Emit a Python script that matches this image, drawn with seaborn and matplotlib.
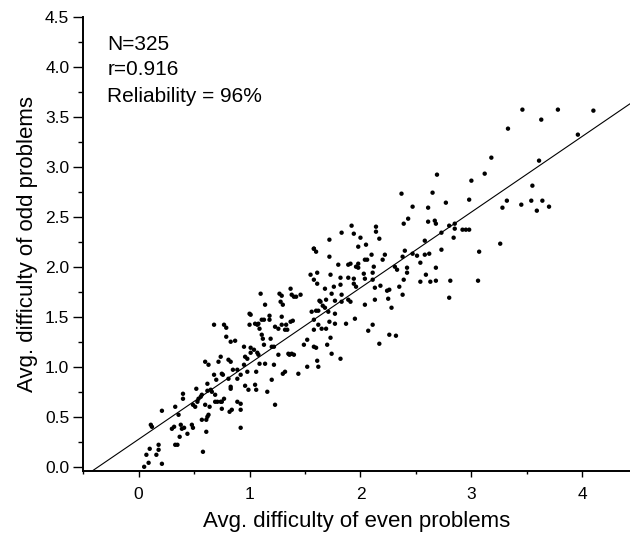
import numpy as np
import pandas as pd
import matplotlib
matplotlib.use("Agg")
import matplotlib.pyplot as plt
import seaborn as sns
from matplotlib.ticker import MultipleLocator

# average difficulty of even problems (x) and odd problems (y)
even_difficulty = [
    0.05, 0.09, 0.07, 0.10, 0.16, 0.18, 0.18, 0.21, 0.11, 0.12, 0.21, 0.33, 0.30, 0.32, 0.33, 0.35,
    0.36, 0.37, 0.38, 0.40, 0.40, 0.39, 0.41, 0.44, 0.48, 0.49, 0.49, 0.51, 0.52, 0.53, 0.54, 0.56,
    0.57, 0.58, 0.57, 0.61, 0.61, 0.62, 0.63, 0.60, 0.60, 0.63, 0.62, 0.62, 0.65, 0.66, 0.64, 0.68,
    0.69, 0.69, 0.68, 0.70, 0.71, 0.74, 0.75, 0.74, 0.75, 0.76, 0.72, 0.77, 0.79, 0.79, 0.77, 0.75,
    0.81, 0.83, 0.81, 0.83, 0.83, 0.82, 0.84, 0.83, 0.87, 0.85, 0.89, 0.89, 0.89, 0.92, 0.92, 0.92,
    0.92, 0.95, 0.96, 0.95, 0.96, 0.98, 0.98, 0.99, 1.00, 1.01, 1.00, 1.01, 1.01, 1.04, 1.06, 1.05,
    1.06, 1.05, 1.07, 1.08, 1.09, 1.07, 1.08, 1.09, 1.10, 1.11, 1.11, 1.14, 1.12, 1.13, 1.13, 1.14,
    1.16, 1.18, 1.18, 1.19, 1.20, 1.20, 1.22, 1.23, 1.22, 1.23, 1.26, 1.26, 1.27, 1.28, 1.29, 1.30,
    1.29, 1.29, 1.32, 1.30, 1.32, 1.33, 1.34, 1.35, 1.36, 1.37, 1.37, 1.38, 1.39, 1.40, 1.38, 1.40,
    1.42, 1.44, 1.46, 1.49, 1.52, 1.52, 1.55, 1.56, 1.58, 1.58, 1.58, 1.58, 1.58,
    1.80, 1.89, 1.96, 1.98, 2.03, 2.12, 2.31, 2.33, 2.42, 2.42, 2.54, 2.59, 2.63, 2.68, 2.68, 2.81,
    3.06, 2.80, 1.61, 1.73, 1.82, 1.89, 1.94, 1.94, 2.04, 2.11, 2.11, 2.39, 1.61, 1.68, 1.76, 1.82,
    1.96, 2.13, 2.18, 2.26, 2.24, 2.35, 2.38, 1.74, 1.83, 1.63, 1.64, 1.69, 1.77, 1.83, 1.89, 1.91,
    2.13, 2.25, 1.66, 1.68, 1.60, 1.62, 1.71, 1.77, 2.04, 2.28, 1.95, 1.62, 1.65, 1.69, 1.72, 1.77,
    1.87, 2.11, 2.07, 1.73, 1.70, 1.74, 1.82, 1.60, 1.61, 1.62, 2.17, 2.26, 2.32,
    3.46, 3.78, 4.10, 3.63, 3.33, 3.96, 3.61, 3.18, 3.12, 3.00, 2.69, 3.55, 2.98, 3.32, 3.28, 3.45,
    3.54, 3.64, 3.59, 3.70, 2.37, 2.65, 2.77, 2.47, 2.61, 2.43, 2.61, 2.67, 2.68, 2.39, 2.80, 2.85,
    2.85, 2.92, 2.95, 2.98, 2.73, 2.84, 2.58, 3.26, 3.07, 2.73, 2.40, 2.47, 2.51, 2.38, 2.58, 2.62,
    2.54, 1.60, 1.72, 1.72, 1.83, 1.92, 1.94, 2.00, 1.98, 2.05, 2.14, 2.14, 2.17, 2.10, 2.22, 2.20,
    2.04, 2.06, 1.98, 1.91, 1.58,
]
odd_difficulty = [
    0.00, 0.04, 0.12, 0.18, 0.12, 0.17, 0.22, 0.03, 0.42, 0.40, 0.56, 0.60, 0.38, 0.40, 0.22, 0.22,
    0.52, 0.30, 0.42, 0.73, 0.68, 0.38, 0.39, 0.33, 0.42, 0.39, 0.62, 0.60, 0.78, 0.65, 0.68, 0.70,
    0.72, 0.15, 0.47, 0.35, 0.47, 0.50, 0.52, 0.62, 1.05, 1.02, 0.83, 0.76, 0.77, 0.75, 0.60, 1.42,
    0.65, 0.72, 0.92, 0.87, 0.65, 0.65, 0.65, 1.10, 0.93, 0.92, 1.05, 1.42, 1.39, 1.30, 0.68, 0.58,
    1.07, 1.05, 0.88, 0.80, 0.78, 0.55, 0.57, 1.25, 1.26, 0.97, 0.97, 0.88, 0.65, 0.63, 0.57, 0.92,
    0.39, 1.20, 1.10, 1.02, 0.81, 1.08, 0.95, 0.77, 1.53, 1.52, 1.42, 1.19, 1.14, 1.17, 0.95, 0.82,
    0.77, 1.43, 1.42, 1.43, 1.38, 1.14, 1.12, 1.03, 1.73, 1.32, 1.47, 1.62, 1.28, 1.22, 1.47, 1.03,
    0.75, 1.51, 1.47, 1.28, 1.20, 0.87, 1.02, 0.62, 1.20, 1.40, 1.38, 1.12, 1.73, 1.65, 1.71, 1.62,
    1.50, 1.42, 1.37, 0.93, 0.95, 1.42, 1.37, 1.13, 1.12, 1.78, 1.45, 1.72, 1.46, 1.70, 1.13, 1.12,
    1.70, 0.93, 1.72, 1.22, 1.27, 1.00, 1.92, 1.55, 1.87, 1.47, 1.37, 1.20, 2.18,
    2.02, 2.02, 2.00, 1.99, 1.93, 2.00, 2.00, 1.97, 1.99, 1.94, 1.85, 1.92, 1.85, 1.99, 1.86, 1.86,
    1.86, 1.69, 1.94, 1.92, 1.89, 1.89, 1.88, 1.83, 1.88, 1.87, 1.94, 1.87, 1.83, 1.78, 1.80, 1.82,
    1.80, 1.79, 1.81, 1.77, 1.76, 1.80, 1.72, 1.73, 1.72, 1.66, 1.65, 1.67, 1.66, 1.65, 1.67, 1.65,
    1.67, 1.68, 1.61, 1.59, 1.56, 1.56, 1.55, 1.53, 1.62, 1.59, 1.48, 1.42, 1.38, 1.38, 1.45, 1.43,
    1.43, 1.42, 1.36, 1.29, 1.22, 1.13, 1.08, 1.19, 1.06, 1.00, 1.23, 1.32, 1.31,
    3.57, 3.57, 3.56, 3.47, 3.38, 3.32, 3.06, 3.09, 2.93, 2.86, 2.92, 2.81, 2.67, 2.66, 2.59, 2.62,
    2.66, 2.66, 2.56, 2.60, 2.73, 2.74, 2.64, 2.60, 2.59, 2.48, 2.45, 2.46, 2.43, 2.43, 2.41, 2.43,
    2.38, 2.37, 2.37, 2.37, 2.34, 2.29, 2.26, 2.23, 2.15, 2.17, 2.16, 2.13, 2.11, 2.10, 2.12, 2.13,
    2.04, 2.15, 2.27, 2.10, 2.34, 2.41, 2.33, 2.29, 2.20, 2.22, 2.40, 2.35, 2.28, 2.12, 2.12, 2.07,
    2.07, 2.07, 2.03, 2.03, 2.18,
]

# least-squares line as drawn in the chart
fit_slope = 0.757
fit_intercept = 0.275

annotations = ["N=325", "r=0.916", "Reliability = 96%"]

df = pd.DataFrame({"even": even_difficulty, "odd": odd_difficulty})

sns.set_style("ticks")
plt.rcParams["font.family"] = ["Liberation Sans", "DejaVu Sans"]

fig = plt.figure(figsize=(6.3, 5.35), dpi=100)
ax = fig.add_axes([0.132, 0.120, 0.868, 0.849])

sns.scatterplot(data=df, x="even", y="odd", ax=ax, s=10, color="black",
                linewidth=0, edgecolor="none", legend=False)
ax.axline((0, fit_intercept), slope=fit_slope, color="black", lw=0.8)

ax.set_xlim(-0.5, 4.43)
ax.set_ylim(-0.04, 4.5)
ax.xaxis.set_major_locator(MultipleLocator(1))
ax.xaxis.set_minor_locator(MultipleLocator(0.5))
ax.yaxis.set_major_locator(MultipleLocator(0.5))
ax.yaxis.set_minor_locator(MultipleLocator(0.25))
ax.yaxis.set_major_formatter(matplotlib.ticker.FormatStrFormatter("%.1f"))

sns.despine(ax=ax)
for side in ["left", "bottom"]:
    ax.spines[side].set_linewidth(1.4)
    ax.spines[side].set_color("black")
ax.tick_params(axis="y", which="major", length=7, width=1, pad=3, labelsize=12.5, colors="black")
ax.tick_params(axis="y", which="minor", length=3.5, width=1, colors="black")
ax.tick_params(axis="x", which="major", length=4, width=1, pad=8, labelsize=12.5, colors="black")
ax.tick_params(axis="x", which="minor", length=2.5, width=1, colors="black")

ax.set_xlabel("Avg. difficulty of even problems", fontsize=16, labelpad=6, color="black")
ax.set_ylabel("Avg. difficulty of odd problems", fontsize=16, labelpad=5, color="black")

label_y = [0.938, 0.883, 0.825]
for txt, ypos in zip(annotations, label_y):
    ax.text(0.044, ypos, txt, transform=ax.transAxes, fontsize=15,
            va="center", ha="left", color="black")

fig.savefig("out.png", dpi=100)
